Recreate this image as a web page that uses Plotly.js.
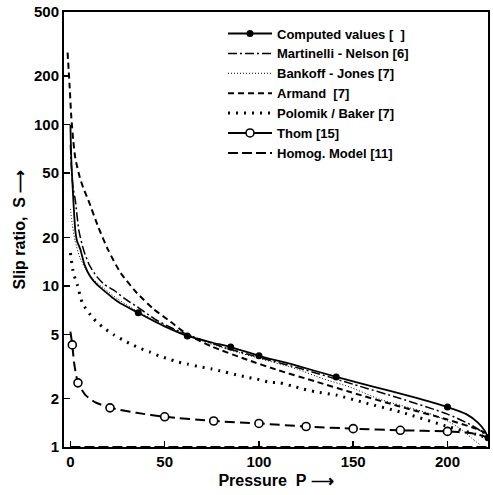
<!DOCTYPE html>
<html>
<head>
<meta charset="utf-8">
<script src="https://cdn.plot.ly/plotly-3.0.1.min.js"></script>
<style>html,body{margin:0;padding:0;background:#fff;}#chart{width:493px;height:495px;}</style>
</head>
<body>
<div id="chart"></div>
<script>
// ---- Data ----
// Computed values: smooth curve and measured points
const computedP = [0, 0.5, 1.5, 2.6, 3.5, 5.3, 7.5, 10.6, 14, 17.5, 22, 26.5, 36, 50, 62, 75, 85, 100, 120, 141, 160, 180, 200, 210, 216, 220, 221.5];
const computedS = [100, 60, 35, 22, 19, 16.8, 13.5, 11.4, 10.2, 9.4, 8.5, 7.8, 6.8, 5.6, 4.89, 4.45, 4.17, 3.68, 3.2, 2.72, 2.38, 2.07, 1.77, 1.6, 1.42, 1.25, 1.14];
const computedPtsP = [36, 62, 85, 100, 141, 200, 221.5];
const computedPtsS = [6.8, 4.89, 4.17, 3.68, 2.72, 1.77, 1.14];

const martinelliP = [0, 0.7, 1.5, 2.6, 4.5, 7, 10, 14, 18, 23, 29, 35.5, 45, 55, 65, 80, 100, 125, 150, 175, 200, 212, 218, 221.5];
const martinelliS = [75, 50, 40, 34, 22, 16.7, 13.5, 11.4, 10.2, 9.4, 8.3, 7.4, 6.2, 5.4, 4.85, 4.2, 3.6, 3.0, 2.45, 2.0, 1.6, 1.38, 1.25, 1.15];

const bankoffP = [0, 1, 2.5, 5, 8, 12, 18, 25, 35, 50, 65, 80, 100, 120, 134, 148, 164, 180, 190, 200, 208, 213, 217];
const bankoffS = [30, 24, 19, 15, 12.8, 11, 9.6, 8.3, 7.0, 5.7, 4.8, 4.15, 3.55, 3.05, 2.65, 2.36, 1.98, 1.75, 1.62, 1.45, 1.27, 1.13, 1.04];

const armandP = [-1.5, -0.5, 0.5, 1.5, 2.6, 5, 7, 9.5, 14.7, 20, 26.7, 35.4, 44, 53, 62, 75, 94, 110, 130, 148, 175, 200, 215, 221.5];
const armandS = [280, 180, 110, 80, 62, 47, 40, 34, 23.3, 16.7, 12.0, 9.0, 7.2, 6.0, 5.0, 4.2, 3.47, 3.0, 2.55, 2.2, 1.78, 1.48, 1.3, 1.2];

const polomikP = [0, 1.6, 3.7, 6.4, 12, 17.5, 23, 28, 33, 37.6, 42, 47, 52, 57, 62, 69, 75, 93, 99, 105, 111, 117.6, 123.5, 130, 141, 157, 175, 201, 215, 221.5];
const polomikS = [16, 12, 10.1, 7.8, 6.3, 5.5, 4.97, 4.6, 4.3, 4.06, 3.89, 3.68, 3.52, 3.37, 3.27, 3.14, 3.05, 2.72, 2.64, 2.53, 2.5, 2.39, 2.29, 2.2, 2.1, 1.87, 1.65, 1.33, 1.2, 1.14];

const thomP = [0, 1, 2, 4, 8, 13, 21, 35, 50, 76, 100, 125, 150, 175, 200, 212, 218, 221.5];
const thomS = [5.2, 4.3, 3.3, 2.5, 2.1, 1.9, 1.75, 1.63, 1.54, 1.45, 1.4, 1.34, 1.3, 1.27, 1.25, 1.22, 1.18, 1.14];
const thomPtsP = [1, 4, 21, 50, 76, 100, 125, 150, 175, 200];
const thomPtsS = [4.3, 2.5, 1.75, 1.54, 1.45, 1.4, 1.34, 1.3, 1.27, 1.25];

const homogP = [0, 221.5];
const homogS = [1, 1];

const seriesNames = ["Computed values [  ]", "Martinelli - Nelson [6]", "Bankoff - Jones [7]", "Armand  [7]", "Polomik / Baker [7]", "Thom [15]", "Homog. Model [11]"];
const yTicks = [1, 2, 5, 10, 20, 50, 100, 200, 500];
const xTicks = [0, 50, 100, 150, 200];

// ---- Styles ----
const K = "#000";
const styles = {
  computed: {color: K, width: 1.8},
  martinelli: {color: K, width: 1.5, dash: "9px,3px,2px,3px"},
  bankoff: {color: K, width: 1, dash: "1px,2px"},
  armand: {color: K, width: 2, dash: "6px,4px"},
  polomik: {color: K, width: 3, dash: "2px,6px"},
  thom: {color: K, width: 2, dash: "10px,5px"},
  homog: {color: K, width: 2, dash: "10px,4px"}
};
const dotFilled = {symbol: "circle", size: 7, color: K};
const dotOpen = {symbol: "circle", size: 8, color: "#fff", line: {width: 1.6, color: K}};

const sp = {shape: "spline", smoothing: 0.6};
const traces = [
  {x: [null], y: [null], mode: "lines+markers", name: seriesNames[0], line: styles.computed, marker: dotFilled},
  {x: computedP, y: computedS, mode: "lines", showlegend: false, line: Object.assign({}, styles.computed, sp)},
  {x: computedPtsP, y: computedPtsS, mode: "markers", showlegend: false, marker: dotFilled},
  {x: martinelliP, y: martinelliS, mode: "lines", name: seriesNames[1], line: Object.assign({}, styles.martinelli, sp)},
  {x: bankoffP, y: bankoffS, mode: "lines", name: seriesNames[2], line: Object.assign({}, styles.bankoff, sp)},
  {x: armandP, y: armandS, mode: "lines", name: seriesNames[3], line: Object.assign({}, styles.armand, sp)},
  {x: polomikP, y: polomikS, mode: "lines", name: seriesNames[4], line: Object.assign({}, styles.polomik, sp)},
  {x: [null], y: [null], mode: "lines+markers", name: seriesNames[5], line: {color: K, width: 2}, marker: dotOpen},
  {x: thomP, y: thomS, mode: "lines", showlegend: false, line: Object.assign({}, styles.thom, sp)},
  {x: thomPtsP, y: thomPtsS, mode: "markers", showlegend: false, marker: dotOpen},
  {x: homogP, y: homogS, mode: "lines", name: seriesNames[6], line: styles.homog}
];

const fontFam = "Liberation Sans, Arial, sans-serif";
const layout = {
  width: 493, height: 495,
  margin: {l: 64, r: 5, t: 12, b: 48},
  paper_bgcolor: "#fff", plot_bgcolor: "#fff",
  font: {family: fontFam, color: K, size: 14, weight: "bold"},
  showlegend: true,
  legend: {x: 0.375, y: 0.985, xanchor: "left", yanchor: "top", bgcolor: "rgba(0,0,0,0)",
           itemwidth: 44,
           font: {size: 13, family: fontFam, weight: "bold"}, traceorder: "normal"},
  xaxis: {
    range: [-3.4, 221.5], tickvals: xTicks, ticktext: xTicks.map(String),
    ticks: "inside", ticklen: 6, tickwidth: 1.5, tickcolor: K,
    showline: true, linecolor: K, linewidth: 2, mirror: true,
    showgrid: false, zeroline: false,
    tickfont: {size: 15, weight: "bold"},
    title: {text: "Pressure  P ⟶", font: {size: 16, weight: "bold"}, standoff: 6}
  },
  yaxis: {
    type: "log", range: [0, Math.log10(500)], tickvals: yTicks, ticktext: yTicks.map(String),
    ticks: "inside", ticklen: 6, tickwidth: 1.5, tickcolor: K,
    showline: true, linecolor: K, linewidth: 2, mirror: true,
    showgrid: false, zeroline: false,
    tickfont: {size: 15, weight: "bold"},
    title: {text: "Slip ratio,  S ⟶", font: {size: 16, weight: "bold"}, standoff: 4}
  }
};

Plotly.newPlot("chart", traces, layout, {staticPlot: true, displayModeBar: false});
</script>
</body>
</html>
